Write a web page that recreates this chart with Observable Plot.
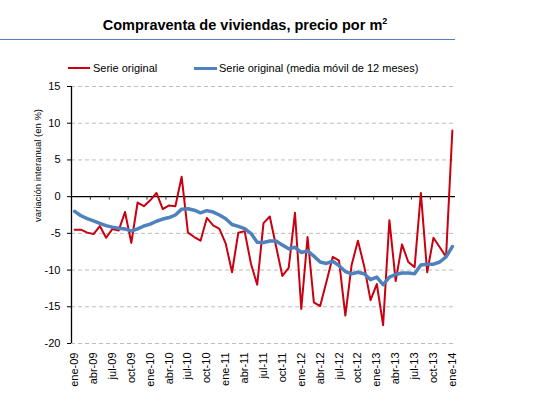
<!DOCTYPE html>
<html><head><meta charset="utf-8">
<script src="https://cdn.jsdelivr.net/npm/d3@7"></script>
<script src="https://cdn.jsdelivr.net/npm/@observablehq/plot@0.6"></script>
<style>
body{margin:0;background:#fff;font-family:Arial,"Liberation Sans",sans-serif;color:#000;}
#wrap{position:relative;width:539px;height:411px;overflow:hidden;background:#fff;}
#header{position:relative;width:539px;height:78px;}
#title{position:absolute;left:0;width:490px;top:16px;text-align:center;font-weight:bold;font-size:14.5px;line-height:18px;white-space:nowrap;}
#title sup{font-size:9px;line-height:0;vertical-align:6px;}
#rule{position:absolute;left:0;top:38.5px;width:455px;height:1px;background:#5b80b8;}
.leg{position:absolute;top:60.5px;font-size:11px;line-height:14px;white-space:nowrap;}
.sw{position:absolute;}
#chart svg{display:block;}
</style>
</head><body>
<div id="wrap">
  <div id="header">
    <div id="title">Compraventa de viviendas, precio por m<sup>2</sup></div>
    <div id="rule"></div>
    <div class="sw" style="left:68px;top:67px;width:22px;height:2px;background:#c8000f;"></div>
    <div class="leg" style="left:93px;">Serie original</div>
    <div class="sw" style="left:194px;top:66.5px;width:23px;height:3px;background:#4f81bd;"></div>
    <div class="leg" style="left:219px;">Serie original (media móvil de 12 meses)</div>
  </div>
  <div id="chart"></div>
</div>
<script>
const meses = ["ene-09","feb-09","mar-09","abr-09","may-09","jun-09","jul-09","ago-09","sep-09","oct-09","nov-09","dic-09",
"ene-10","feb-10","mar-10","abr-10","may-10","jun-10","jul-10","ago-10","sep-10","oct-10","nov-10","dic-10",
"ene-11","feb-11","mar-11","abr-11","may-11","jun-11","jul-11","ago-11","sep-11","oct-11","nov-11","dic-11",
"ene-12","feb-12","mar-12","abr-12","may-12","jun-12","jul-12","ago-12","sep-12","oct-12","nov-12","dic-12",
"ene-13","feb-13","mar-13","abr-13","may-13","jun-13","jul-13","ago-13","sep-13","oct-13","nov-13","dic-13",
"ene-14"];

const serieOriginal = [-4.5,-4.5,-4.9,-5.1,-4.0,-5.6,-4.4,-4.6,-2.1,-6.3,-0.8,-1.3,
-0.5,0.5,-1.7,-1.2,-1.3,2.7,-4.9,-5.5,-6.0,-2.9,-3.9,-4.4,
-6.4,-10.3,-4.9,-4.7,-9.1,-12.0,-3.6,-2.7,-6.8,-10.8,-9.7,-2.2,
-15.3,-5.5,-14.4,-14.9,-11.6,-8.2,-8.7,-16.2,-9.3,-6.0,-9.5,-14.1,
-11.9,-17.5,-3.2,-11.5,-6.5,-8.9,-9.6,0.5,-10.3,-5.6,-6.9,-8.2,
9.0];

const mediaMovil = [-2.0,-2.6,-3.0,-3.3,-3.65,-3.95,-4.15,-4.3,-4.4,-4.7,-4.4,-4.0,
-3.75,-3.35,-3.05,-2.85,-2.5,-1.7,-1.65,-1.85,-2.2,-1.9,-2.1,-2.5,
-3.0,-3.8,-4.05,-4.35,-5.0,-6.2,-6.25,-6.05,-6.05,-6.6,-7.1,-6.9,
-7.6,-7.4,-8.1,-8.9,-9.1,-8.8,-9.4,-10.2,-10.5,-10.3,-10.5,-11.3,
-10.95,-12.0,-10.95,-10.6,-10.4,-10.4,-10.5,-9.3,-9.2,-9.2,-8.9,-8.2,
-6.8];

const yTicks = [-20,-15,-10,-5,0,5,10,15];
const xTickLabels = ["ene-09","abr-09","jul-09","oct-09","ene-10","abr-10","jul-10","oct-10",
"ene-11","abr-11","jul-11","oct-11","ene-12","abr-12","jul-12","oct-12",
"ene-13","abr-13","jul-13","oct-13","ene-14"];
const yTitle = "variación interanual (en %)";

const data = meses.map((mes, i) => ({i, mes, original: serieOriginal[i], media: mediaMovil[i]}));
const labelData = xTickLabels.map(l => ({i: meses.indexOf(l), l}));
// tick marks sit on category boundaries, every 3 months
const boundaries = d3.range(2.5, meses.length - 1, 3);

const chart = Plot.plot({
  width: 539,
  height: 333,
  marginTop: 8,
  marginBottom: 68,
  marginLeft: 71,
  marginRight: 84,
  x: {type: "linear", domain: [-0.5, meses.length - 0.5], axis: null},
  y: {domain: [-20, 15], axis: null},
  style: {fontFamily: "Arial, 'Liberation Sans', sans-serif", fontSize: "11px", color: "black", background: "white", overflow: "visible"},
  marks: [
    Plot.ruleY(yTicks.filter(d => d !== 0), {stroke: "#bdbdbd", strokeDasharray: "4,3", strokeWidth: 1}),
    Plot.ruleY([0], {stroke: "black", strokeWidth: 1.3}),
    Plot.ruleX(boundaries, {x: d => d, y1: 0, y2: 0, insetBottom: -3.5, stroke: "#333"}),
    Plot.ruleX([-0.5], {y1: -20, y2: 15, stroke: "black", strokeWidth: 1.3}),
    Plot.axisY({ticks: yTicks, tickSize: 4, tickPadding: 7, tickFormat: d => String(d), fontSize: 11, label: null}),
    Plot.lineY(data, {x: "i", y: "original", stroke: "#c8000f", strokeWidth: 2}),
    Plot.lineY(data, {x: "i", y: "media", stroke: "#4f81bd", strokeWidth: 3.5}),
    Plot.text(labelData, {x: "i", y: -20, text: "l", rotate: -90, textAnchor: "end", dy: 9, fontSize: 11}),
    Plot.text([yTitle], {frameAnchor: "top-left", rotate: -90, textAnchor: "middle", dx: -37, dy: 79, fontSize: "9.5px"})
  ]
});
document.getElementById("chart").appendChild(chart);
</script>
</body></html>
